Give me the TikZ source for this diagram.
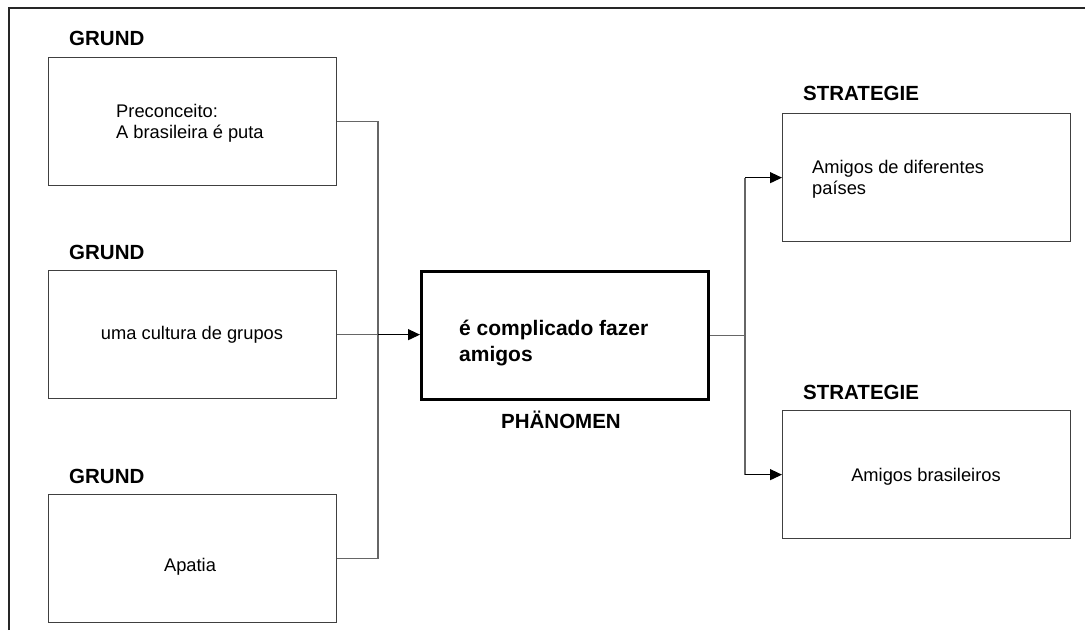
\documentclass[tikz,border=0pt]{standalone}
\usepackage{fontspec}
\setmainfont{Liberation Sans}
\usetikzlibrary{arrows.meta}
\begin{document}
\begin{tikzpicture}[x=1pt,y=-1pt,
  box/.style={draw=black!75, line width=1.3pt, minimum width=288pt, minimum height=128pt, inner sep=0pt, anchor=north west},
  phenbox/.style={draw=black, line width=3pt, minimum width=287pt, minimum height=128pt, inner sep=0pt, anchor=north west},
  heading/.style={font=\fontsize{20.5}{24}\selectfont\bfseries, inner sep=0pt, anchor=west},
  body/.style={font=\fontsize{18.3}{21}\selectfont, inner sep=0pt, align=left},
  bodybold/.style={font=\fontsize{21}{26}\selectfont\bfseries, inner sep=0pt, align=left},
  conn/.style={draw=black!60, line width=1.2pt},
  arrowline/.style={draw=black, line width=1.2pt, -{Triangle[length=12pt,width=11pt]}}]
\useasboundingbox (0,0) rectangle (1085,630);

% outer frame (top and left edges)
\draw[line width=2pt, black!85] (9,630) -- (9,8) -- (1085,8);

% causes
\node[box] (g1) at (48,57) {};
\node[box] (g2) at (48,270) {};
\node[box] (g3) at (48,494) {};
\node[heading] (h1) at (69,38) {GRUND};
\node[heading] (h2) at (69,252) {GRUND};
\node[heading] (h3) at (69,476) {GRUND};
\node[body, anchor=west] (t1) at (116,123) {Preconceito:\\A brasileira é puta};
\node[body] (t2) at (192,335) {uma cultura de grupos};
\node[body] (t3) at (190,567) {Apatia};

% phenomenon
\node[phenbox] (ph) at (420,270) {};
\node[bodybold, anchor=west] (pt) at (459,343) {é complicado fazer\\amigos};
\node[heading, anchor=center] (ph lbl) at (561,420) {PHÄNOMEN};

% strategies
\node[box] (s1) at (782,113) {};
\node[box] (s2) at (782,410) {};
\node[heading] (sh1) at (803,93) {STRATEGIE};
\node[heading] (sh2) at (803,392) {STRATEGIE};
\node[body, anchor=west] (st1) at (812,179) {Amigos de diferentes\\países};
\node[body] (st2) at (926,477) {Amigos brasileiros};

% junction points, level with the middle box and the phenomenon
\coordinate (jlx) at (378,0);
\coordinate (jrx) at (745,0);
\coordinate (jl) at (jlx |- g2.east);
\coordinate (jr) at (jrx |- ph.east);

% connectors on the left
\draw[conn] (g1.east) -| (jl);
\draw[conn] (g3.east) -| (jl);
\draw[conn] (g2.east) -- (jl);
\draw[arrowline] (jl) -- (jl -| ph.west);

% connectors on the right
\draw[conn] (ph.east) -- (jr);
\draw[conn] (s1.west -| jr) -- (s2.west -| jr);
\draw[arrowline] (s1.west -| jr) -- (s1.west);
\draw[arrowline] (s2.west -| jr) -- (s2.west);
\end{tikzpicture}
\end{document}
